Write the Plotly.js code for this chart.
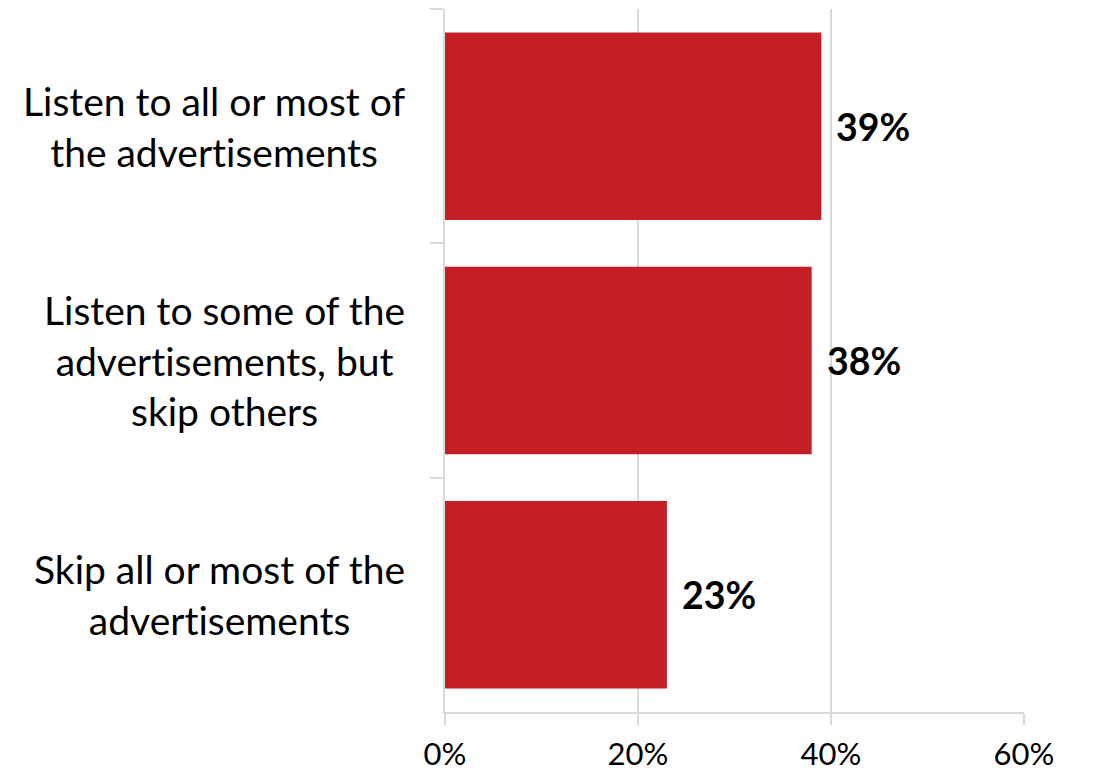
<!DOCTYPE html>
<html>
<head>
<meta charset="utf-8">
<script src="https://cdn.plot.ly/plotly-3.0.1.min.js"></script>
<style>html,body{margin:0;padding:0;background:#fff;}#chart{width:1119px;height:774px;}
#chart text{font-variant-ligatures:none;font-feature-settings:"liga" 0;}</style>
</head>
<body>
<div id="chart"></div>
<script>
const categories = [
  "Listen to all or most of<br>the advertisements",
  "Listen to some of the<br>advertisements, but<br>skip others",
  "Skip all or most of the<br>advertisements"
];
const values = [39, 38, 23];
const xTicks = [0, 20, 40, 60];
const xTickLabels = ["0%", "20%", "40%", "60%"];

const barColor = "#c41f27";
const gridColor = "#d9d9d9";
const FONT = "Lato, 'Open Sans', sans-serif";

const trace = {
  type: "bar",
  orientation: "h",
  x: values,
  y: categories,
  marker: {color: barColor},
  hoverinfo: "none"
};

const annotations = [];
categories.forEach((c, i) => {
  annotations.push({
    xref: "x", yref: "y", x: values[i], y: c,
    text: "<b>" + values[i] + "%</b>",
    showarrow: false, xanchor: "left", yanchor: "middle", xshift: 13,
    font: {family: FONT, size: 37.5, color: "#000"}
  });
  annotations.push({
    xref: "paper", yref: "y", x: 0, y: c,
    text: c, align: "center",
    showarrow: false, xanchor: "right", yanchor: "middle", xshift: -38,
    font: {family: FONT, size: 39, color: "#000"}
  });
});

const layout = {
  width: 1119, height: 774,
  margin: {l: 445, r: 95, t: 9, b: 62, pad: 0},
  paper_bgcolor: "#fff", plot_bgcolor: "#fff",
  showlegend: false,
  bargap: 0.2,
  font: {family: FONT, color: "#000"},
  xaxis: {
    range: [0, 60],
    tickvals: xTicks, ticktext: xTickLabels,
    showgrid: true, gridcolor: gridColor, gridwidth: 2,
    showline: true, linecolor: gridColor, linewidth: 2,
    ticks: "outside", ticklen: 11, tickcolor: gridColor, tickwidth: 2,
    ticklabelstandoff: 3,
    tickfont: {family: FONT, size: 31, color: "#000"},
    zeroline: false, fixedrange: true
  },
  yaxis: {
    type: "category",
    autorange: "reversed",
    showticklabels: false,
    showgrid: false,
    showline: true, linecolor: gridColor, linewidth: 2,
    ticks: "outside", tickson: "boundaries", ticklen: 13, tickcolor: gridColor, tickwidth: 2,
    zeroline: false, fixedrange: true
  },
  annotations: annotations
};

Plotly.newPlot("chart", [trace], layout, {staticPlot: true, displayModeBar: false});
</script>
</body>
</html>
